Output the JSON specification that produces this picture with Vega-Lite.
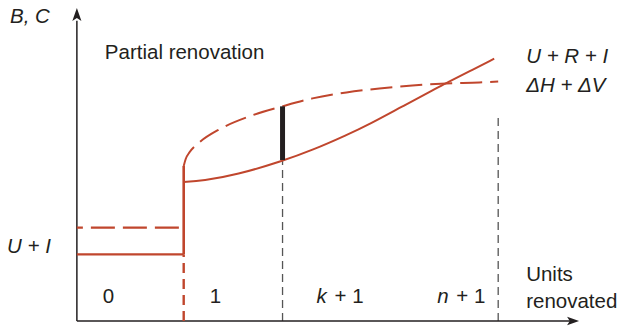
{
  "$schema": "https://vega.github.io/schema/vega-lite/v6.json",
  "width": 618,
  "height": 326,
  "autosize": {"type": "fit", "contains": "padding"},
  "padding": 0,
  "background": "white",
  "config": {"view": {"stroke": null}},
  "datasets": {
    "curves": [
      {"series": "U + R + I", "x": 10.7, "y": 14.0},
      {"series": "U + R + I", "x": 12.6, "y": 14.1},
      {"series": "U + R + I", "x": 16.0, "y": 14.7},
      {"series": "U + R + I", "x": 20.6, "y": 16.1},
      {"series": "U + R + I", "x": 23.6, "y": 17.2},
      {"series": "U + R + I", "x": 27.0, "y": 18.7},
      {"series": "U + R + I", "x": 29.3, "y": 19.8},
      {"series": "U + R + I", "x": 32.6, "y": 21.6},
      {"series": "U + R + I", "x": 36.0, "y": 23.4},
      {"series": "U + R + I", "x": 37.1, "y": 24.0},
      {"series": "U + R + I", "x": 39.3, "y": 25.1},
      {"series": "U + R + I", "x": 41.8, "y": 26.4},
      {"series": "ΔH + ΔV", "x": 10.7, "y": 15.6},
      {"series": "ΔH + ΔV", "x": 10.9, "y": 16.3},
      {"series": "ΔH + ΔV", "x": 11.3, "y": 17.0},
      {"series": "ΔH + ΔV", "x": 12.3, "y": 18.0},
      {"series": "ΔH + ΔV", "x": 14.3, "y": 19.3},
      {"series": "ΔH + ΔV", "x": 17.3, "y": 20.6},
      {"series": "ΔH + ΔV", "x": 20.6, "y": 21.6},
      {"series": "ΔH + ΔV", "x": 23.6, "y": 22.4},
      {"series": "ΔH + ΔV", "x": 27.0, "y": 23.0},
      {"series": "ΔH + ΔV", "x": 30.3, "y": 23.4},
      {"series": "ΔH + ΔV", "x": 33.6, "y": 23.7},
      {"series": "ΔH + ΔV", "x": 37.0, "y": 23.9},
      {"series": "ΔH + ΔV", "x": 40.3, "y": 24.0},
      {"series": "ΔH + ΔV", "x": 42.2, "y": 24.1}
    ]
  },
  "encoding": {
    "x": {"field": "x", "type": "quantitative", "scale": {"domain": [-7.7, 54.1], "nice": false, "zero": false}, "axis": null},
    "y": {"field": "y", "type": "quantitative", "scale": {"domain": [-0.3, 32.3], "nice": false, "zero": false}, "axis": null}
  },
  "layer": [
    {
      "data": {"values": [
        {"part": "unit k", "x": 20.6, "y": 0, "x2": 20.6, "y2": 16.2},
        {"part": "unit n", "x": 42.2, "y": 0, "x2": 42.2, "y2": 20.6}
      ]},
      "mark": {"type": "rule", "color": "#555555", "strokeWidth": 1.3, "strokeDash": [8, 5]},
      "encoding": {"x2": {"field": "x2"}, "y2": {"field": "y2"}}
    },
    {
      "data": {"values": [
        {"part": "B, C axis", "x": 0, "y": 0, "x2": 0, "y2": 30.2},
        {"part": "units axis", "x": 0, "y": 0, "x2": 49.5, "y2": 0}
      ]},
      "mark": {"type": "rule", "color": "#231f20", "strokeWidth": 1.5},
      "encoding": {"x2": {"field": "x2"}, "y2": {"field": "y2"}}
    },
    {
      "data": {"values": [{"part": "up", "x": 0, "y": 30.85}]},
      "mark": {"type": "point", "shape": "M0,-1L0.7,1L0,0.55L-0.7,1Z", "size": 169, "filled": true, "opacity": 1, "color": "#231f20", "strokeWidth": 0}
    },
    {
      "data": {"values": [{"part": "right", "x": 49.7, "y": 0}]},
      "mark": {"type": "point", "shape": "M1,0L-1,-0.7L-0.55,0L-1,0.7Z", "size": 144, "filled": true, "opacity": 1, "color": "#231f20", "strokeWidth": 0}
    },
    {
      "data": {"values": [
        {"part": "U + I", "x": 0, "y": 6.7, "x2": 10.7, "y2": 6.7}
      ]},
      "mark": {"type": "rule", "color": "#c0462d", "strokeWidth": 2.2},
      "encoding": {"x2": {"field": "x2"}, "y2": {"field": "y2"}}
    },
    {
      "data": {"values": [
        {"part": "jump", "x": 10.7, "y": 6.7, "x2": 10.7, "y2": 15.6}
      ]},
      "mark": {"type": "rule", "color": "#c0462d", "strokeWidth": 2.6},
      "encoding": {"x2": {"field": "x2"}, "y2": {"field": "y2"}}
    },
    {
      "data": {"values": [
        {"part": "benefit before", "x": 0, "y": 9.4, "x2": 10.7, "y2": 9.4}
      ]},
      "mark": {"type": "rule", "color": "#c0462d", "strokeWidth": 2.2, "strokeDash": [24, 8], "strokeDashOffset": 18},
      "encoding": {"x2": {"field": "x2"}, "y2": {"field": "y2"}}
    },
    {
      "data": {"values": [
        {"part": "unit 1", "x": 10.7, "y": 0, "x2": 10.7, "y2": 6.7}
      ]},
      "mark": {"type": "rule", "color": "#c0462d", "strokeWidth": 2.4, "strokeDash": [10, 6]},
      "encoding": {"x2": {"field": "x2"}, "y2": {"field": "y2"}}
    },
    {
      "data": {"name": "curves"},
      "transform": [{"filter": "datum.series === 'U + R + I'"}],
      "mark": {"type": "line", "color": "#c0462d", "strokeWidth": 2, "interpolate": "basis"}
    },
    {
      "data": {"name": "curves"},
      "transform": [{"filter": "datum.series === 'ΔH + ΔV'"}],
      "mark": {"type": "line", "color": "#c0462d", "strokeWidth": 2, "strokeDash": [22, 8], "interpolate": "monotone"}
    },
    {
      "data": {"values": [
        {"part": "gain k", "x": 20.6, "y": 16.2, "x2": 20.6, "y2": 21.6}
      ]},
      "mark": {"type": "rule", "color": "#231f20", "strokeWidth": 5},
      "encoding": {"x2": {"field": "x2"}, "y2": {"field": "y2"}}
    },
    {
      "data": {"values": [
        {"label": "B, C", "x": -6.7, "y": 30.0},
        {"label": "U + I", "x": -7.0, "y": 6.8},
        {"label": "k", "x": 24.0, "y": 1.8},
        {"label": "n", "x": 36.1, "y": 1.8},
        {"label": "U + R + I", "x": 45.0, "y": 26.0},
        {"label": "ΔH + ΔV", "x": 45.0, "y": 23.0}
      ]},
      "mark": {"type": "text", "align": "left", "baseline": "alphabetic", "font": "Liberation Sans", "fontSize": 20.5, "fontStyle": "italic", "color": "#231f20"},
      "encoding": {"text": {"field": "label"}}
    },
    {
      "data": {"values": [
        {"label": "Partial renovation", "x": 2.8, "y": 26.4},
        {"label": "0", "x": 2.6, "y": 1.8},
        {"label": "1", "x": 13.3, "y": 1.8},
        {"label": "+ 1", "x": 25.8, "y": 1.8},
        {"label": "+ 1", "x": 38.0, "y": 1.8},
        {"label": "Units", "x": 45.0, "y": 4.0},
        {"label": "renovated", "x": 45.0, "y": 1.3}
      ]},
      "mark": {"type": "text", "align": "left", "baseline": "alphabetic", "font": "Liberation Sans", "fontSize": 20.5, "color": "#231f20"},
      "encoding": {"text": {"field": "label"}}
    }
  ]
}
